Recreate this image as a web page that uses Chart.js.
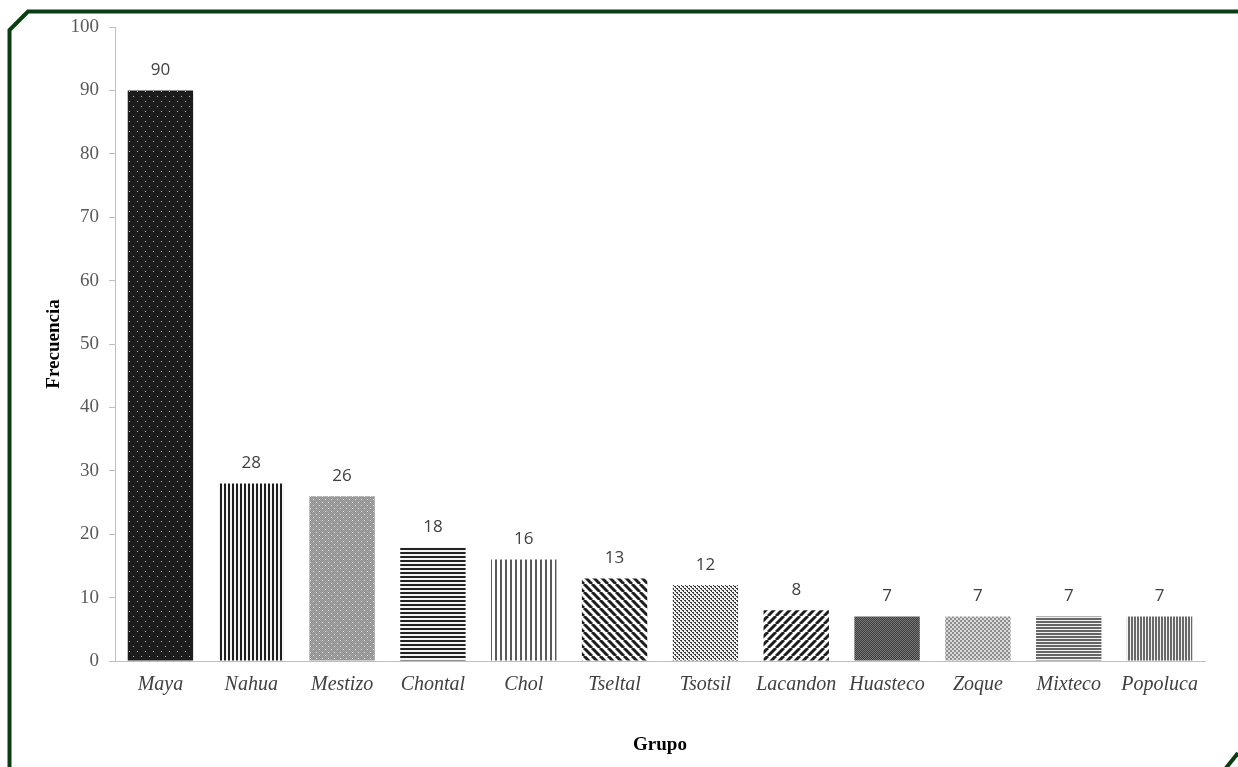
<!DOCTYPE html>
<html>
<head>
<meta charset="utf-8">
<script src="https://cdn.jsdelivr.net/npm/chart.js@4/dist/chart.umd.min.js"></script>
<style>
html,body{margin:0;padding:0;background:#fff;}
#wrap{width:1238px;height:767px;position:relative;}
</style>
</head>
<body>
<div id="wrap"><canvas id="c" width="1238" height="767"></canvas></div>
<script>
const categories = ["Maya","Nahua","Mestizo","Chontal","Chol","Tseltal","Tsotsil","Lacandon","Huasteco","Zoque","Mixteco","Popoluca"];
const frecuencia = [90,28,26,18,16,13,12,8,7,7,7,7];
const yTicks = [0,10,20,30,40,50,60,70,80,90,100];

function tile(w,h,draw){
  const c=document.createElement('canvas');c.width=w;c.height=h;
  const g=c.getContext('2d');draw(g,w,h);
  return document.getElementById('c').getContext('2d').createPattern(c,'repeat');
}
const patterns = [
  tile(8,10,(g)=>{g.fillStyle='#1c1c1c';g.fillRect(0,0,8,10);g.fillStyle='#b8b8b8';g.fillRect(1,1,1,1);g.fillRect(5,6,1,1);}),
  tile(4,4,(g)=>{g.fillStyle='#f4f4f4';g.fillRect(0,0,4,4);g.fillStyle='#1e1e1e';g.fillRect(0,0,2,4);}),
  tile(6,6,(g)=>{g.fillStyle='#8c8c8c';g.fillRect(0,0,6,6);g.fillStyle='#a8a8a8';for(let i=0;i<6;i++){for(let j=0;j<6;j++){if((i+j)%2===0)g.fillRect(i,j,1,1);}}g.fillStyle='#e8e8e8';g.fillRect(1,1,1,1);g.fillRect(4,4,1,1);}),
  tile(4,4,(g)=>{g.fillStyle='#f4f4f4';g.fillRect(0,0,4,4);g.fillStyle='#222';g.fillRect(0,0,4,2);}),
  tile(5,5,(g)=>{g.fillStyle='#fff';g.fillRect(0,0,5,5);g.fillStyle='#5a5a5a';g.fillRect(0,0,2,5);}),
  tile(8,8,(g)=>{g.fillStyle='#fff';g.fillRect(0,0,8,8);g.strokeStyle='#1e1e1e';g.lineWidth=3;
    for(let k=-8;k<=16;k+=8){g.beginPath();g.moveTo(k,0);g.lineTo(k+8,8);g.stroke();}}),
  tile(4,4,(g)=>{g.fillStyle='#f2f2f2';g.fillRect(0,0,4,4);g.fillStyle='#3a3a3a';g.fillRect(0,0,2,1);g.fillRect(2,2,2,1);g.fillRect(1,1,1,1);g.fillRect(3,3,1,1);}),
  tile(8,8,(g)=>{g.fillStyle='#fff';g.fillRect(0,0,8,8);g.strokeStyle='#1e1e1e';g.lineWidth=3;
    for(let k=-8;k<=16;k+=8){g.beginPath();g.moveTo(k,8);g.lineTo(k+8,0);g.stroke();}}),
  tile(2,2,(g)=>{g.fillStyle='#3a3a3a';g.fillRect(0,0,2,2);g.fillStyle='#7a7a7a';g.fillRect(0,0,1,1);g.fillRect(1,1,1,1);}),
  tile(4,4,(g)=>{g.fillStyle='#dadada';g.fillRect(0,0,4,4);g.fillStyle='#8e8e8e';g.fillRect(0,0,2,2);g.fillRect(2,2,2,2);}),
  tile(3,3,(g)=>{g.fillStyle='#f2f2f2';g.fillRect(0,0,3,3);g.fillStyle='#666';g.fillRect(0,0,3,2);}),
  tile(3,3,(g)=>{g.fillStyle='#f2f2f2';g.fillRect(0,0,3,3);g.fillStyle='#6a6a6a';g.fillRect(0,0,2,3);})
];

const dataLabels = {
  id:'dataLabels',
  afterDatasetsDraw(chart){
    const ctx=chart.ctx;const meta=chart.getDatasetMeta(0);
    ctx.save();ctx.font='17px "Open Sans"';ctx.fillStyle='#404040';
    ctx.textAlign='center';ctx.textBaseline='middle';
    meta.data.forEach((bar,i)=>{ctx.fillText(String(frecuencia[i]),bar.x,bar.y-20);});
    ctx.restore();
  }
};
const frame = {
  id:'frame',
  afterDraw(chart){
    const ctx=chart.ctx;ctx.save();ctx.strokeStyle='#0b3d12';ctx.lineWidth=4;
    ctx.beginPath();ctx.moveTo(9.5,767);ctx.lineTo(9.5,30);ctx.lineTo(28,11.5);ctx.lineTo(1238,11.5);ctx.stroke();
    ctx.beginPath();ctx.moveTo(1226,768);ctx.lineTo(1238,753);ctx.stroke();
    ctx.restore();
  }
};

new Chart(document.getElementById('c'),{
  type:'bar',
  data:{labels:categories,datasets:[{data:frecuencia,backgroundColor:patterns,borderWidth:0,barPercentage:0.72,categoryPercentage:1.0}]},
  options:{
    responsive:false,animation:false,
    layout:{padding:{top:27,right:33,bottom:0,left:0}},
    plugins:{legend:{display:false},tooltip:{enabled:false}},
    scales:{
      x:{
        grid:{drawOnChartArea:false,drawTicks:false},
        border:{color:'#bfbfbf',width:1},
        ticks:{font:{family:'"Liberation Serif"',size:20,style:'italic'},color:'#404040',padding:12,maxRotation:0,autoSkip:false},
        title:{display:true,text:'Grupo',font:{family:'"Liberation Serif"',size:19,weight:'bold'},color:'#000',padding:{top:0,bottom:11}},
        afterFit(s){s.height=106;s.paddingLeft=0;s.paddingRight=0;}
      },
      y:{
        min:0,max:100,
        afterBuildTicks(s){s.ticks=yTicks.map(v=>({value:v}));},
        grid:{drawOnChartArea:false,drawTicks:true,tickLength:6,color:'#bfbfbf'},
        border:{color:'#bfbfbf',width:1},
        ticks:{font:{family:'"Liberation Serif"',size:19},color:'#595959',padding:10},
        title:{display:true,text:'Frecuencia',font:{family:'"Liberation Serif"',size:19,weight:'bold'},color:'#000',padding:{top:43,bottom:0}},
        afterFit(s){s.width=115;s.paddingTop=0;s.paddingBottom=0;}
      }
    }
  },
  plugins:[dataLabels,frame]
});
</script>
</body>
</html>
